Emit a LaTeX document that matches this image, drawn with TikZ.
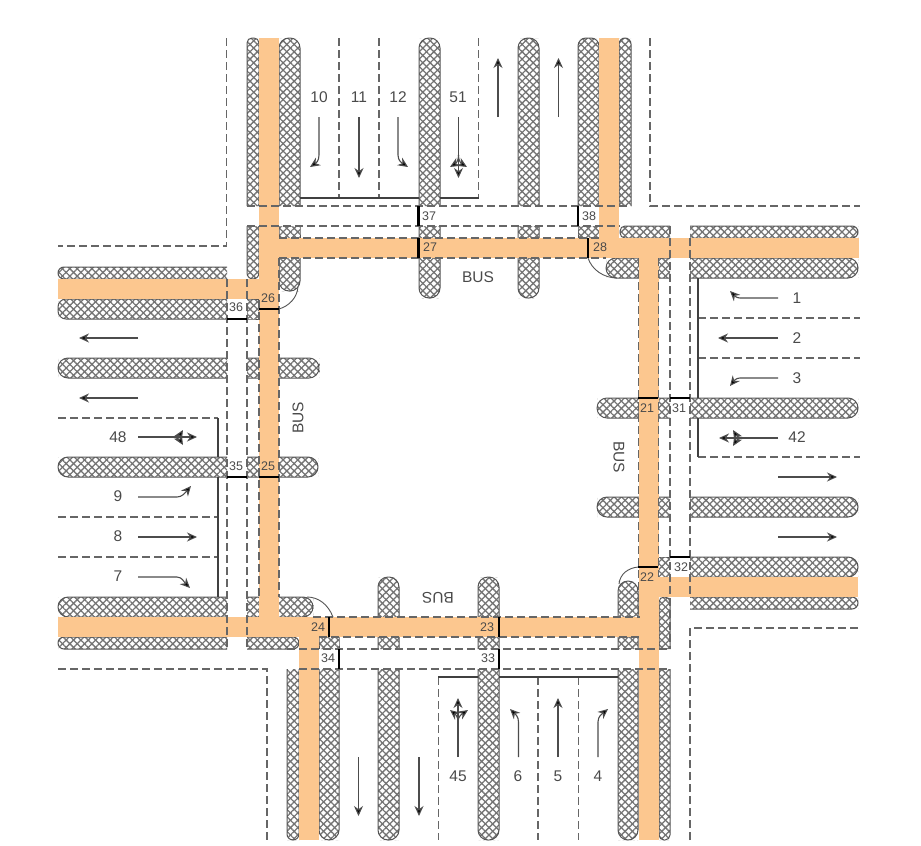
\documentclass[tikz,border=0pt]{standalone}
\usepackage{fontspec}
\setmainfont{Liberation Sans}
\usetikzlibrary{patterns.meta,arrows.meta}
\definecolor{hatchc}{HTML}{737373}
\definecolor{edgec}{HTML}{555555}
\definecolor{bandc}{HTML}{FCC78F}
\definecolor{dashc}{HTML}{666666}
\definecolor{txtc}{HTML}{4A4A4A}
\tikzset{
  hatched/.style={preaction={pattern={Lines[angle=45,distance=5.2pt,line width=1.3pt]},pattern color=hatchc},
                  pattern={Lines[angle=-45,distance=5.2pt,line width=1.3pt]},pattern color=hatchc},
  edgeline/.style={draw=edgec,line width=1pt},
  band/.style={fill=bandc},
  dashline/.style={draw=dashc,line width=1.2pt,dash pattern=on 8pt off 4pt},
  stopline/.style={draw=black!75,line width=1.3pt},
  bar/.style={draw=black,line width=2.4pt},
  curve/.style={draw=edgec,line width=0.9pt},
  flow/.style={draw=black!70,line width=1.1pt,-{Stealth[length=10pt,width=9pt,fill=black]}},
  lane/.style={font=\fontsize{15.5}{16}\selectfont,text=txtc,inner sep=0pt},
  tag/.style={font=\fontsize{12.5}{13}\selectfont,text=txtc,inner sep=0pt},
  bus/.style={font=\fontsize{15.5}{16}\selectfont,text=txtc,inner sep=0pt},
}
\newcommand\hatchH[6]{%
  \pgfmathsetmacro\ym{(#2+#4)/2}\pgfmathsetmacro\xm{(#1+#3)/2}%
  \path[hatched] (#1,\ym) [rounded corners=#5pt] |- (\xm,#2) [rounded corners=#6pt] -| (#3,\ym) |- (\xm,#4) [rounded corners=#5pt] -| (#1,\ym) -- cycle;
  \pgfmathsetmacro\sa{(#5>0)?\ym:#2}\pgfmathsetmacro\sb{(#6>0)?\ym:#2}%
  \pgfmathsetmacro\sc{(#5>0)?\ym:#4}\pgfmathsetmacro\sd{(#6>0)?\ym:#4}%
  \draw[edgeline] (#1,\sa) [rounded corners=#5pt] |- (\xm,#2) [rounded corners=#6pt] -| (#3,\sb);
  \draw[edgeline] (#1,\sc) [rounded corners=#5pt] |- (\xm,#4) [rounded corners=#6pt] -| (#3,\sd);
}
\newcommand\hatchV[6]{%
  \pgfmathsetmacro\ym{(#2+#4)/2}\pgfmathsetmacro\xm{(#1+#3)/2}%
  \path[hatched] (#1,\ym) [rounded corners=#5pt] |- (\xm,#2) -| (#3,\ym) [rounded corners=#6pt] |- (\xm,#4) -| (#1,\ym) -- cycle;
  \pgfmathsetmacro\sa{(#5>0)?\xm:#1}\pgfmathsetmacro\sb{(#6>0)?\xm:#1}%
  \pgfmathsetmacro\sc{(#5>0)?\xm:#3}\pgfmathsetmacro\sd{(#6>0)?\xm:#3}%
  \draw[edgeline] (\sa,#2) [rounded corners=#5pt] -| (#1,\ym) [rounded corners=#6pt] |- (\sb,#4);
  \draw[edgeline] (\sc,#2) [rounded corners=#5pt] -| (#3,\ym) [rounded corners=#6pt] |- (\sd,#4);
}
\begin{document}
\begin{tikzpicture}[x=1pt,y=-1pt]
\useasboundingbox (0,0) rectangle (921,846);
\fill[white] (0,0) rectangle (921,846);
% ---- hatched medians: north
\hatchV{247}{38}{259}{206}{5}{0}
\hatchV{247}{226}{259}{279}{0}{6}
\hatchV{279}{38}{300}{206}{10}{0}
\hatchV{279}{226}{300}{238}{0}{0}
\hatchV{279}{258}{300}{291}{0}{10}
\hatchV{419}{38}{440}{206}{10}{0}
\hatchV{419}{226}{440}{298}{0}{10}
\hatchV{518}{38}{539}{206}{10}{0}
\hatchV{518}{226}{539}{298}{0}{10}
\hatchV{578}{38}{599}{206}{8}{0}
\hatchV{578}{226}{599}{238}{0}{0}
\hatchV{619}{38}{631}{206}{6}{0}
% ---- east
\hatchH{620}{226}{670}{238}{5}{0}
\hatchH{690}{226}{858}{238}{0}{6}
\hatchH{606}{258}{670}{278}{10}{0}
\hatchH{690}{258}{858}{278}{0}{10}
\hatchH{597}{398}{670}{418}{10}{0}
\hatchH{690}{398}{858}{418}{0}{10}
\hatchH{597}{497}{670}{517}{10}{0}
\hatchH{690}{497}{858}{517}{0}{10}
\hatchH{658}{557}{670}{577}{0}{0}
\hatchH{690}{557}{858}{577}{0}{10}
\hatchH{690}{597}{858}{609}{0}{6}
% ---- south
\hatchV{659}{597}{670}{649}{5}{0}
\hatchV{659}{669}{670}{840}{0}{5}
\hatchV{618}{581}{638}{649}{10}{0}
\hatchV{618}{669}{638}{840}{0}{10}
\hatchV{478}{577}{499}{649}{10}{0}
\hatchV{478}{669}{499}{840}{0}{10}
\hatchV{378}{577}{399}{649}{10}{0}
\hatchV{378}{669}{399}{840}{0}{10}
\hatchV{319}{637}{339}{649}{0}{0}
\hatchV{319}{669}{339}{840}{0}{10}
\hatchV{287}{669}{299}{840}{0}{6}
% ---- west
\hatchH{58}{597}{227}{617}{10}{0}
\hatchH{247}{597}{313}{617}{0}{10}
\hatchH{58}{637}{227}{649}{6}{0}
\hatchH{247}{637}{299}{649}{0}{6}
\hatchH{58}{457}{227}{477}{10}{0}
\hatchH{247}{457}{318}{477}{0}{10}
\hatchH{58}{358}{227}{378}{10}{0}
\hatchH{247}{358}{319}{378}{0}{10}
\hatchH{58}{299}{227}{319}{8}{0}
\hatchH{247}{299}{259}{319}{0}{0}
\hatchH{58}{267}{227}{279}{6}{0}
% ---- orange bus lanes
\fill[band] (259,38) rectangle (279,637);
\fill[band] (599,38) rectangle (619,258);
\fill[band] (639,258) rectangle (659,840);
\fill[band] (299,617) rectangle (319,840);
\fill[band] (259,238) rectangle (859,258);
\fill[band] (58,279) rectangle (259,299);
\fill[band] (659,577) rectangle (858,597);
\fill[band] (58,617) rectangle (659,637);
% ---- dashed outlines
\draw[dashline] (226.5,38) -- (226.5,246) -- (58,246);
\draw[dashline] (650,38) -- (650,206) -- (860,206);
\draw[dashline] (690,840) -- (690,628) -- (860,628);
\draw[dashline] (58,669) -- (267,669) -- (267,840);
% lane separators
\foreach \x in {339,379,478.5} \draw[dashline] (\x,38) -- (\x,198);
\foreach \x in {438.5,538,578.5} \draw[dashline] (\x,677) -- (\x,840);
\foreach \y in {318,358,457} \draw[dashline] (698,\y) -- (860,\y);
\foreach \y in {418,517,557} \draw[dashline] (58,\y) -- (218,\y);
% crossings
\draw[dashline] (247,206) -- (631,206);
\draw[dashline] (247,226) -- (620,226);
\draw[dashline] (279,238) -- (600,238);
\draw[dashline] (279,258) -- (606,258);
\draw[dashline] (287,649) -- (670,649);
\draw[dashline] (299,669) -- (670,669);
\draw[dashline] (313,617) -- (640,617);
\draw[dashline] (319,637) -- (640,637);
\draw[dashline] (227,279) -- (227,649);
\draw[dashline] (247,279) -- (247,649);
\draw[dashline] (259,300) -- (259,597);
\draw[dashline] (279,258) -- (279,597);
\draw[dashline] (670,226) -- (670,649);
\draw[dashline] (690,238) -- (690,597);
\draw[dashline] (638.5,258) -- (638.5,617);
\draw[dashline] (658.5,258) -- (658.5,577);
% ---- stop lines
\draw[stopline] (300,198) -- (419,198);
\draw[stopline] (440,198) -- (478.5,198);
\draw[stopline] (218,418) -- (218,457);
\draw[stopline] (218,477) -- (218,597);
\draw[stopline] (698,278) -- (698,398);
\draw[stopline] (698,418) -- (698,457);
\draw[stopline] (438,677) -- (478,677);
\draw[stopline] (499,677) -- (618,677);
% ---- corner curves
\draw[curve] (588,258) .. controls (592,270) and (604,278) .. (617,278);
\draw[curve] (279,309) .. controls (289,306) and (297,298) .. (298,287);
\draw[curve] (638,567) .. controls (628,568) and (620,574) .. (619,584);
\draw[curve] (307,597) .. controls (318,597) and (328,604) .. (333,617);
% ---- signal bars
\draw[bar] (418.5,206) -- (418.5,226);
\draw[bar] (418.5,238) -- (418.5,258);
\draw[bar] (578,206) -- (578,226);
\draw[bar] (588,238) -- (588,258);
\draw[bar] (259,309) -- (279,309);
\draw[bar] (227,319) -- (247,319);
\draw[bar] (227,477) -- (247,477);
\draw[bar] (259,477) -- (279,477);
\draw[bar] (638,398) -- (658,398);
\draw[bar] (670,398) -- (690,398);
\draw[bar] (638,567) -- (658,567);
\draw[bar] (670,557) -- (690,557);
\draw[bar] (329,617) -- (329,637);
\draw[bar] (339,649) -- (339,669);
\draw[bar] (499,617) -- (499,637);
\draw[bar] (499,649) -- (499,669);
% ---- signal group tags
\node[tag] (t37) at (429,216) {37};
\node[tag] (t27) at (430,247) {27};
\node[tag] (t38) at (589,216) {38};
\node[tag] (t28) at (600,247) {28};
\node[tag] (t26) at (268,298) {26};
\node[tag] (t36) at (236,307) {36};
\node[tag] (t35) at (236,466) {35};
\node[tag] (t25) at (268,466) {25};
\node[tag] (t21) at (647,408) {21};
\node[tag] (t31) at (679,408) {31};
\node[tag] (t22) at (647,577) {22};
\node[tag] (t32) at (681,567) {32};
\node[tag] (t24) at (318,627) {24};
\node[tag] (t34) at (328,658) {34};
\node[tag] (t23) at (487,627) {23};
\node[tag] (t33) at (488,658) {33};
% ---- BUS
\node[bus] (busn) at (478,277) {BUS};
\node[bus,rotate=90] (busw) at (298,418) {BUS};
\node[bus,rotate=-90] (buse) at (619,457) {BUS};
\node[bus,rotate=180] (buss) at (438,598) {BUS};
% ---- lane numbers
\node[lane] (n10) at (319,97) {10};
\node[lane] (n11) at (359,97) {11};
\node[lane] (n12) at (398,97) {12};
\node[lane] (n51) at (458,97) {51};
\node[lane] (n1) at (797,298) {1};
\node[lane] (n2) at (797,338) {2};
\node[lane] (n3) at (797,378) {3};
\node[lane] (n42) at (797,437) {42};
\node[lane] (n48) at (118,437) {48};
\node[lane] (n9) at (118,496) {9};
\node[lane] (n8) at (118,536) {8};
\node[lane] (n7) at (118,576) {7};
\node[lane] (n45) at (458,776) {45};
\node[lane] (n6) at (518,776) {6};
\node[lane] (n5) at (558,776) {5};
\node[lane] (n4) at (598,776) {4};
% ---- arrows north
\draw[flow] (319,117) -- (319,155) .. controls (319,161) and (316,163) .. (310,167);
\draw[flow] (359,117) -- (359,178);
\draw[flow] (398,117) -- (398,155) .. controls (398,161) and (402,163) .. (408,167);
\draw[flow] (458.5,117) -- (458.5,178);
\draw[flow] (458.5,155) .. controls (458.5,162) and (455,164) .. (450,167);
\draw[flow] (458.5,155) .. controls (458.5,162) and (462,164) .. (467,167);
\draw[flow] (498,117) -- (498,58);
\draw[flow] (558.5,117) -- (558.5,58);
% ---- arrows east
\draw[flow] (778,298) -- (740,298) .. controls (736,298) and (734,295) .. (730,291);
\draw[flow] (778,338) -- (718,338);
\draw[flow] (778,378) -- (740,378) .. controls (736,378) and (734,381) .. (730,386);
\draw[flow] (778,438) -- (719,438);
\draw[flow] (745,438) .. controls (738,438) and (736,435) .. (733,430);
\draw[flow] (745,438) .. controls (738,438) and (736,441) .. (733,446);
\draw[flow] (778,477) -- (837,477);
\draw[flow] (778,537) -- (837,537);
% ---- arrows west
\draw[flow] (138,338) -- (79,338);
\draw[flow] (138,398) -- (79,398);
\draw[flow] (138,437) -- (197,437);
\draw[flow] (170,437) .. controls (177,437) and (180,435) .. (183,430);
\draw[flow] (170,437) .. controls (177,437) and (180,440) .. (183,445);
\draw[flow] (138,497) -- (177,497) .. controls (182,497) and (185,493) .. (191,486);
\draw[flow] (138,537) -- (197,537);
\draw[flow] (138,577) -- (177,577) .. controls (182,577) and (184,582) .. (190,588);
% ---- arrows south
\draw[flow] (358.5,757) -- (358.5,816);
\draw[flow] (419,757) -- (419,816);
\draw[flow] (458,757) -- (458,698);
\draw[flow] (458,722) .. controls (458,716) and (455,714) .. (450,710);
\draw[flow] (458,722) .. controls (458,716) and (462,714) .. (468,710);
\draw[flow] (518.5,757) -- (518.5,722) .. controls (518.5,716) and (515,714) .. (510,709);
\draw[flow] (558,757) -- (558,698);
\draw[flow] (598,757) -- (598,722) .. controls (598,716) and (602,714) .. (608,709);
\end{tikzpicture}
\end{document}
